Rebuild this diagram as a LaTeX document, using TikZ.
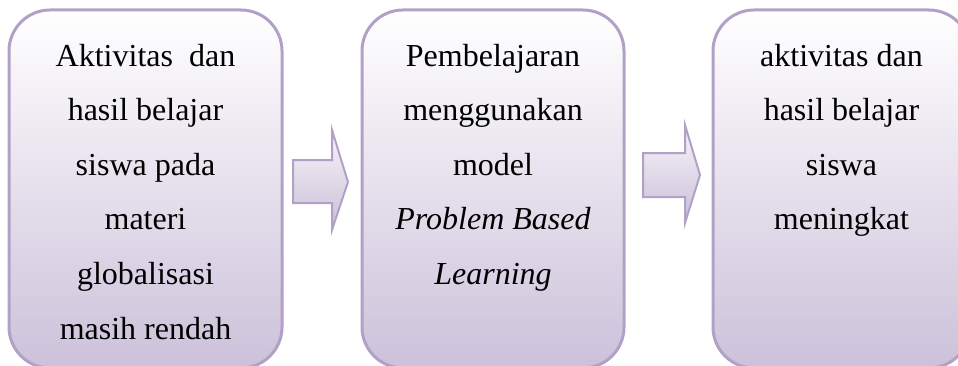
\documentclass[tikz,border=0pt]{standalone}
\usepackage{fontspec}
\setmainfont{Liberation Serif}
\definecolor{ungugaris}{RGB}{178,161,199}
\definecolor{unguisi}{RGB}{204,193,218}
\newcommand{\isikotak}[1]{\parbox[c][179pt][t]{120pt}{\centering\rule{0pt}{28pt}#1}}

\begin{document}
\begin{tikzpicture}[x=0.5pt, y=0.5pt,
    kotak/.style={rectangle, draw=ungugaris, line width=1.5pt, top color=white, bottom color=unguisi, rounded corners=20.5pt, inner sep=0pt, minimum height=179pt, font=\fontsize{16pt}{27.3pt}\selectfont},
    panah/.style={draw=ungugaris, line width=1pt, top color=white!85!unguisi, bottom color=unguisi!90!ungugaris}
]
    \useasboundingbox (0,0) rectangle (958,365);
    \clip (0,0) rectangle (958,365);

    % Three boxes, the last one runs off the right edge
    \node[kotak, minimum width=136.5pt] (awal) at (145.5,176) {\isikotak{Aktivitas\ \ dan\\ hasil belajar\\ siswa pada\\ materi\\ globalisasi\\ masih rendah}};
    \node[kotak, minimum width=131pt] (tindakan) at (493,176) {\isikotak{Pembelajaran\\ menggunakan\\ model\\ \textit{Problem Based}\\ \textit{Learning}}};
    \node[kotak, minimum width=128.5pt] (hasil) at (841.5,176) {\isikotak{aktivitas dan\\ hasil belajar\\ siswa\\ meningkat}};

    % Block arrows between the boxes
    \draw[panah] (293,205) -- (332,205) -- (332,235) -- (348,183) -- (332,135) -- (332,162) -- (293,162) -- cycle;
    \draw[panah] (643,212) -- (685,212) -- (685,240) -- (700,190) -- (685,142) -- (685,168) -- (643,168) -- cycle;
\end{tikzpicture}
\end{document}
